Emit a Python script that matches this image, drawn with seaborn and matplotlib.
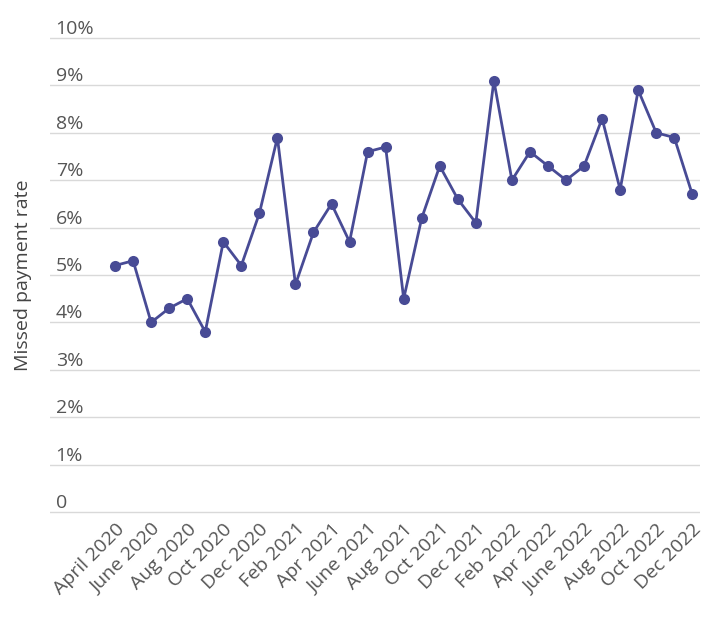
import matplotlib
matplotlib.use("Agg")
import matplotlib.pyplot as plt
import matplotlib.transforms as mtransforms
import seaborn as sns
import pandas as pd

months = ["April 2020","May 2020","June 2020","July 2020","Aug 2020","Sep 2020","Oct 2020","Nov 2020","Dec 2020",
          "Jan 2021","Feb 2021","Mar 2021","Apr 2021","May 2021","June 2021","July 2021","Aug 2021","Sep 2021","Oct 2021","Nov 2021","Dec 2021",
          "Jan 2022","Feb 2022","Mar 2022","Apr 2022","May 2022","June 2022","July 2022","Aug 2022","Sep 2022","Oct 2022","Nov 2022","Dec 2022"]
rates = [5.2,5.3,4.0,4.3,4.5,3.8,5.7,5.2,6.3,7.9,4.8,5.9,6.5,5.7,7.6,7.7,4.5,6.2,7.3,6.6,6.1,9.1,7.0,7.6,7.3,7.0,7.3,8.3,6.8,8.9,8.0,7.9,6.7]
yticks = [0,1,2,3,4,5,6,7,8,9,10]
ytick_labels = ["0"] + [f"{v}%" for v in yticks[1:]]

df = pd.DataFrame({"i": range(len(months)), "rate": rates})
plt.rcParams["font.family"] = "Open Sans"
fig, ax = plt.subplots(figsize=(7.16, 6.19), dpi=100)
sns.lineplot(data=df, x="i", y="rate", color="#484b95", lw=2, marker="o", markersize=8,
             markeredgewidth=0, ax=ax)
ax.set_ylim(-0.05, 10.05)
ax.set_xlim(-3.6, 32.44)
ax.set_yticks(yticks)
ax.set_yticklabels(ytick_labels, fontsize=14, color="#555555")
ax.set_xticks(range(0, len(months), 2))
ax.set_xticklabels(months[::2], rotation=45, ha="right", rotation_mode="anchor", fontsize=14, color="#555555")
off = mtransforms.ScaledTranslation(0, 4/100, fig.dpi_scale_trans)
for t in ax.get_yticklabels():
    t.set_horizontalalignment("left")
    t.set_verticalalignment("bottom")
    t.set_transform(t.get_transform() + off)
ax.tick_params(axis="y", length=0, pad=-4)
ax.tick_params(axis="x", length=0, pad=4)
ax.grid(axis="y", color="#d9d9d9", lw=1)
ax.set_axisbelow(True)
for s in ax.spines.values():
    s.set_visible(False)
ax.set_xlabel("")
ax.set_ylabel("Missed payment rate", fontsize=14, color="#444444")
ax.yaxis.set_label_coords(-0.028, 0.5)
plt.subplots_adjust(left=0.07, right=0.978, top=0.9425, bottom=0.169)
fig.savefig("out.png")
